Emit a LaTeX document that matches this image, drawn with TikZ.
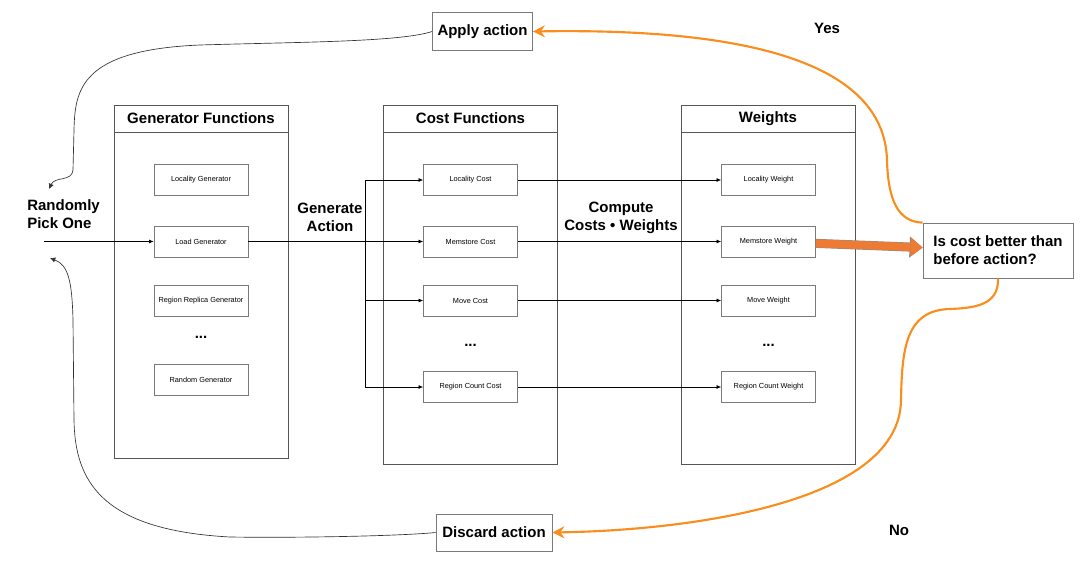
\documentclass[tikz,border=0pt]{standalone}
\usepackage{fontspec}
\setsansfont{Liberation Sans}
\usetikzlibrary{arrows.meta,positioning}
\definecolor{panelline}{HTML}{555555}
\definecolor{itemline}{HTML}{7A7A7A}
\definecolor{loop-orange}{HTML}{F98D1E}
\definecolor{block-orange}{HTML}{EE7B33}
\newcommand{\bigfont}{\fontsize{11.25}{13.5}\selectfont}
\newcommand{\tinyfont}{\fontsize{5.5}{6.6}\selectfont}

\begin{document}
\begin{tikzpicture}[
  x=0.75pt, y=-0.75pt,
  paneltitle/.style={draw=panelline, line width=0.6pt, outer sep=0pt, minimum width=130.5pt, minimum height=20.25pt, inner sep=0pt, align=center, font=\sffamily\bfseries\bigfont},
  panelbody/.style={draw=panelline, line width=0.6pt, outer sep=0pt, minimum width=130.5pt, inner sep=0pt},
  item/.style={draw=itemline, line width=0.5pt, minimum width=70.5pt, minimum height=23.25pt, inner sep=0pt, align=center, font=\sffamily\tinyfont},
  action/.style={draw=itemline, line width=0.6pt, inner sep=0pt, align=center, font=\sffamily\bfseries\bigfont},
  lbl/.style={align=center, font=\sffamily\bfseries\bigfont, inner sep=0pt},
  dots/.style={font=\sffamily\bfseries\bigfont, inner sep=0pt},
  arr/.style={-{Latex[length=3.5pt,width=3pt]}, line width=0.5pt, black},
  loop/.style={-{Latex[length=4pt,width=4pt]}, line width=0.5pt, black!80},
  oarr/.style={-{Stealth[length=9pt,width=9pt,inset=3pt]}, line width=1.6pt, loop-orange},
  barr/.style={-{Triangle[length=9pt,width=14.5pt,line width=0pt]}, line width=6pt, block-orange,
    preaction={draw=black!45, line width=6.8pt, -{Triangle[length=9.8pt,width=15.8pt,line width=0pt]}}}
]
  \useasboundingbox (0,0) rectangle (1080,582);

  % panels
  \node[paneltitle] (gentitle) at (201,118.5) {Generator Functions};
  \node[panelbody, minimum height=244.5pt, below=0pt of gentitle] (genpanel) {};
  \node[paneltitle] (costtitle) at (470.5,118.5) {Cost Functions};
  \node[panelbody, minimum height=249pt, below=0pt of costtitle] (costpanel) {};
  \node[paneltitle] (wtitle) at (768,118.5) {Weights};
  \node[panelbody, minimum height=249pt, below=0pt of wtitle] (wpanel) {};

  % generators
  \node[item] (locgen) at (201,180) {Locality Generator};
  \node[item] (loadgen) at (201,241.5) {Load Generator};
  \node[item] (replgen) at (201,300.5) {Region Replica Generator};
  \node[dots] (gendots) at (201,337) {...};
  \node[item] (randgen) at (201,379.5) {Random Generator};

  % costs
  \node[item] (loccost) at (470.5,180) {Locality Cost};
  \node[item] (memcost) at (470.5,241.5) {Memstore Cost};
  \node[item] (movecost) at (470.5,300.5) {Move Cost};
  \node[dots] (costdots) at (470.5,345) {...};
  \node[item] (rccost) at (470.5,387) {Region Count Cost};

  % weights
  \node[item] (locweight) at (768.5,180) {Locality Weight};
  \node[item] (memweight) at (768.5,241.5) {Memstore Weight};
  \node[item] (moveweight) at (768.5,300.5) {Move Weight};
  \node[dots] (wdots) at (768.5,345) {...};
  \node[item] (rcweight) at (768.5,387) {Region Count Weight};

  % decision and actions
  \node[action, minimum width=112.5pt, minimum height=41.25pt, align=left] (decision) at (998,250.5) {Is cost better than\\before action?};
  \node[action, minimum width=75pt, minimum height=28.5pt] (apply) at (482.5,31.5) {Apply action};
  \node[action, minimum width=87pt, minimum height=27.75pt] (discard) at (494,532.5) {Discard action};

  % labels
  \node[lbl, anchor=west, align=left] (pick) at (27,214.5) {Randomly\\Pick One};
  \node[lbl] (genact) at (330,217.5) {Generate\\Action};
  \node[lbl] (compute) at (621,217.5) {Compute\\Costs • Weights};
  \node[lbl] (yes) at (827,28) {Yes};
  \node[lbl] (no) at (899,530) {No};

  \coordinate (entry) at (44,241.5);
  \coordinate (split) at (365,241.5);
  \coordinate (pickin) at (49,189);
  \coordinate (pickret) at (50,258);

  \draw[arr] (entry) -- (loadgen);
  \draw[arr] (loadgen) -- (memcost);
  \draw[arr] (split) |- (loccost);
  \draw[arr] (split) |- (movecost);
  \draw[arr] (split) |- (rccost);
  \draw[arr] (loccost) -- (locweight);
  \draw[arr] (memcost) -- (memweight);
  \draw[arr] (movecost) -- (moveweight);
  \draw[arr] (rccost) -- (rcweight);
  \draw[barr] (memweight) -- (decision);

  \draw[oarr] (decision.north west) .. controls (898,222) and (888,200) .. (887,160)
    .. controls (884,60) and (740,28) .. (apply.east);
  \draw[oarr] (decision.south) .. controls (999,305) and (975,308) .. (950,309)
    .. controls (905,310) and (902,350) .. (901,400)
    .. controls (900,500) and (700,530) .. (discard.east);

  \draw[loop] (apply.west) .. controls (400,42) and (300,42) .. (200,45)
    .. controls (80,50) and (75,90) .. (74,130) -- (73,170)
    .. controls (72,182) and (55,176) .. (pickin);
  \draw[loop] (discard.west) .. controls (400,536) and (300,538) .. (230,537)
    .. controls (100,530) and (75,480) .. (74,420) -- (73,320)
    .. controls (72,280) and (68,265) .. (pickret);
\end{tikzpicture}
\end{document}
